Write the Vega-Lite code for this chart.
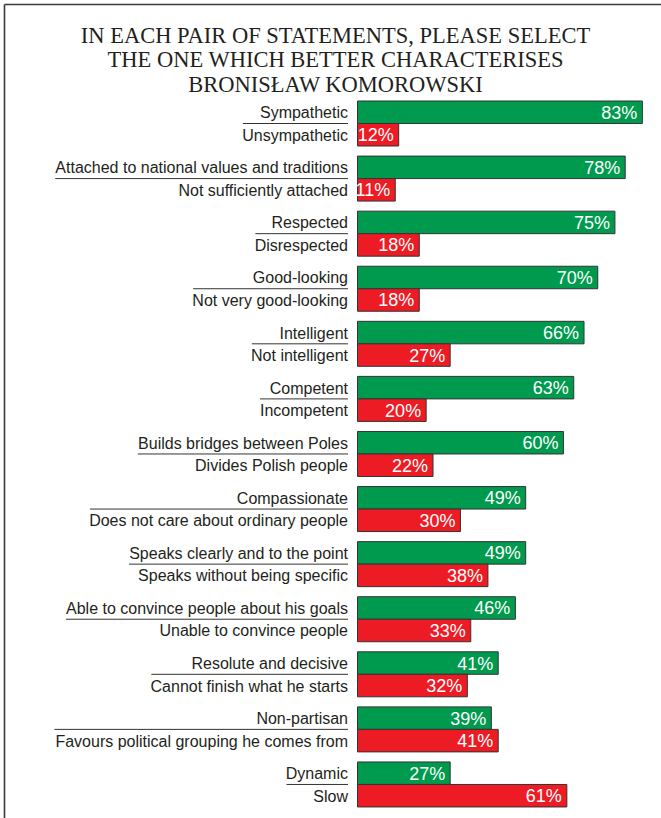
{
  "$schema": "https://vega.github.io/schema/vega-lite/v6.json",
  "width": 657,
  "height": 814,
  "autosize": {"type": "none"},
  "padding": {"left": 4, "top": 4, "right": 0, "bottom": 0},
  "background": "white",
  "title": {
    "text": ["IN EACH PAIR OF STATEMENTS, PLEASE SELECT", "THE ONE WHICH BETTER CHARACTERISES", "BRONISŁAW KOMOROWSKI"],
    "font": "Liberation Serif",
    "fontSize": 22.5,
    "fontWeight": "normal",
    "color": "#231f20",
    "lineHeight": 24.5,
    "anchor": "middle",
    "frame": "group",
    "offset": -92,
    "dx": 3
  },
  "config": {
    "view": {"stroke": null},
    "axis": {"domain": true, "domainColor": "#3a3a3a", "domainWidth": 1.6, "ticks": false, "labels": false, "grid": false}
  },
  "data": {
    "values": [
      {"pair": 1, "side": "pos", "label": "Sympathetic", "value": 83},
      {"pair": 1, "side": "neg", "label": "Unsympathetic", "value": 12},
      {"pair": 2, "side": "pos", "label": "Attached to national values and traditions", "value": 78},
      {"pair": 2, "side": "neg", "label": "Not sufficiently attached", "value": 11},
      {"pair": 3, "side": "pos", "label": "Respected", "value": 75},
      {"pair": 3, "side": "neg", "label": "Disrespected", "value": 18},
      {"pair": 4, "side": "pos", "label": "Good-looking", "value": 70},
      {"pair": 4, "side": "neg", "label": "Not very good-looking", "value": 18},
      {"pair": 5, "side": "pos", "label": "Intelligent", "value": 66},
      {"pair": 5, "side": "neg", "label": "Not intelligent", "value": 27},
      {"pair": 6, "side": "pos", "label": "Competent", "value": 63},
      {"pair": 6, "side": "neg", "label": "Incompetent", "value": 20},
      {"pair": 7, "side": "pos", "label": "Builds bridges between Poles", "value": 60},
      {"pair": 7, "side": "neg", "label": "Divides Polish people", "value": 22},
      {"pair": 8, "side": "pos", "label": "Compassionate", "value": 49},
      {"pair": 8, "side": "neg", "label": "Does not care about ordinary people", "value": 30},
      {"pair": 9, "side": "pos", "label": "Speaks clearly and to the point", "value": 49},
      {"pair": 9, "side": "neg", "label": "Speaks without being specific", "value": 38},
      {"pair": 10, "side": "pos", "label": "Able to convince people about his goals", "value": 46},
      {"pair": 10, "side": "neg", "label": "Unable to convince people", "value": 33},
      {"pair": 11, "side": "pos", "label": "Resolute and decisive", "value": 41},
      {"pair": 11, "side": "neg", "label": "Cannot finish what he starts", "value": 32},
      {"pair": 12, "side": "pos", "label": "Non-partisan", "value": 39},
      {"pair": 12, "side": "neg", "label": "Favours political grouping he comes from", "value": 41},
      {"pair": 13, "side": "pos", "label": "Dynamic", "value": 27},
      {"pair": 13, "side": "neg", "label": "Slow", "value": 61}
    ]
  },
  "encoding": {
    "y": {
      "field": "pair",
      "type": "ordinal",
      "title": null,
      "scale": {"paddingInner": 0.183, "paddingOuter": 0.9808, "align": 0.8978},
      "axis": {"orient": "left"}
    }
  },
  "layer": [
    {
      "mark": {"type": "bar", "stroke": "#333333", "strokeWidth": 1},
      "encoding": {
        "yOffset": {"field": "side", "type": "nominal", "scale": {"domain": ["pos", "neg"], "paddingInner": 0, "paddingOuter": 0}},
        "x": {
          "field": "value",
          "type": "quantitative",
          "title": null,
          "scale": {"domain": [-103, 88.43], "nice": false, "zero": false},
          "axis": {"orient": "top"}
        },
        "color": {"field": "side", "type": "nominal", "scale": {"domain": ["pos", "neg"], "range": ["#009a4e", "#ed1c24"]}, "legend": null}
      }
    },
    {
      "mark": {"type": "text", "align": "right", "baseline": "middle", "dx": -9.5, "dy": 1, "font": "Liberation Sans", "fontSize": 16, "color": "#231f20"},
      "encoding": {
        "yOffset": {"field": "side", "type": "nominal", "scale": {"domain": ["pos", "neg"], "paddingInner": 0, "paddingOuter": 0}},
        "x": {"datum": 0},
        "text": {"field": "label"}
      }
    },
    {
      "transform": [{"calculate": "datum.value + '%'", "as": "pct"}],
      "mark": {"type": "text", "align": "right", "baseline": "middle", "dx": -5, "dy": 1.5, "font": "Liberation Sans", "fontSize": 18, "color": "white"},
      "encoding": {
        "yOffset": {"field": "side", "type": "nominal", "scale": {"domain": ["pos", "neg"], "paddingInner": 0, "paddingOuter": 0}},
        "x": {"field": "value", "type": "quantitative"},
        "text": {"field": "pct"}
      }
    },
    {
      "transform": [
        {"calculate": "16 * (0.556 * length(datum.label) - 0.334 * length(replace(datum.label, regexp('[^ilj]', 'g'), '')) - 0.278 * length(replace(datum.label, regexp('[^tf I]', 'g'), '')) - 0.223 * length(replace(datum.label, regexp('[^r\\\\-]', 'g'), '')) - 0.056 * length(replace(datum.label, regexp('[^csvykxz]', 'g'), '')) + 0.277 * length(replace(datum.label, regexp('[^m]', 'g'), '')) + 0.166 * length(replace(datum.label, regexp('[^w]', 'g'), '')) + 0.12 * length(replace(datum.label, regexp('[^A-HJ-Z]', 'g'), '')))", "as": "w"},
        {"joinaggregate": [{"op": "max", "field": "w", "as": "wmax"}], "groupby": ["pair"]},
        {"filter": "datum.side === 'pos'"},
        {"calculate": "-(9.5 + datum.wmax) / 3.432", "as": "xs"}
      ],
      "mark": {"type": "rule", "color": "#333333", "strokeWidth": 1, "x2Offset": -9.5},
      "encoding": {
        "x": {"field": "xs", "type": "quantitative"},
        "x2": {"datum": 0}
      }
    }
  ]
}
